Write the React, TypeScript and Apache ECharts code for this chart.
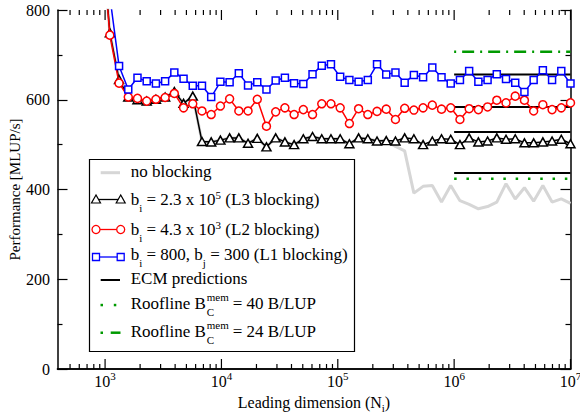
import React, { useEffect, useRef } from "react";
import * as echarts from "echarts";

// Leading dimension N_i (sampled in steps of ~1.2x)
const leadingDim = [916, 1099, 1319, 1582, 1899, 2279, 2734, 3281, 3937, 4725, 5670, 6804, 8165, 9797, 11757, 14108, 16930, 20316, 24379, 29255, 35106, 42127, 50553, 60663, 72796, 87355, 104826, 125791, 150949, 181139, 217367, 260841, 313009, 375610, 450733, 540879, 649055, 778866, 934639, 1121567, 1345880, 1615056, 1938067, 2325680, 2790816, 3348980, 4018776, 4822531, 5787037, 6944444, 8333333, 10000000];

const noBlocking = [1000, 749, 645, 606, 600, 597, 601, 606, 618, 592, 608, 507, 506, 510, 515, 515, 503, 514, 495, 515, 506, 500, 513, 518, 513, 513, 513, 502, 515, 513, 508, 509, 496, 486, 392, 407, 409, 372, 409, 375, 367, 357, 362, 372, 413, 379, 404, 374, 409, 372, 379, 369];
const l3Blocking = [1000, 749, 645, 606, 600, 597, 601, 606, 618, 592, 608, 507, 506, 510, 515, 515, 503, 514, 495, 515, 506, 500, 513, 518, 513, 513, 513, 502, 515, 513, 508, 509, 508, 515, 513, 500, 508, 513, 512, 500, 515, 506, 508, 515, 512, 513, 504, 504, 506, 508, 512, 502];
const l2Blocking = [990, 744, 637, 606, 603, 597, 601, 605, 614, 582, 591, 575, 567, 586, 602, 575, 575, 601, 541, 573, 582, 567, 578, 567, 591, 591, 582, 547, 580, 567, 574, 579, 556, 581, 577, 582, 588, 579, 582, 556, 580, 578, 584, 599, 593, 608, 599, 575, 589, 578, 582, 593];
const l1Blocking = [1100, 830, 675, 623, 649, 641, 636, 641, 661, 647, 631, 631, 606, 640, 639, 659, 632, 639, 623, 643, 649, 637, 635, 657, 676, 679, 651, 644, 640, 644, 679, 656, 661, 638, 655, 650, 672, 650, 636, 644, 664, 640, 644, 657, 646, 638, 617, 644, 666, 644, 664, 636];

const ecmPredictions = [656, 584, 528, 437];
const roofline40 = 424;
const roofline24 = 707;
const modelRange = [1e6, 1e7];

const xMin = 390;
const xMax = 1e7;
const majorDecades = [1e3, 1e4, 1e5, 1e6, 1e7];
const minorMantissas = [2, 3, 4, 5, 6, 7, 8, 9];
const extraMinor = [500, 600, 700, 800, 900];

const FONT = '"Liberation Serif", "Times New Roman", serif';

export default function App() {
  const ref = useRef<HTMLDivElement>(null);
  useEffect(() => {
    document.body.style.margin = "0";
    const chart = echarts.init(ref.current!, null, { renderer: "svg" });

    const ctx = document.createElement("canvas").getContext("2d")!;
    ctx.font = '17px "Liberation Serif"';
    const wRoof = ctx.measureText("Roofline B").width || 75;

    const pts = (vals: number[]) => leadingDim.map((n, i) => [n, vals[i]]);

    const tickData: number[][] = [];
    majorDecades.forEach((d) => tickData.push([d, 1]));
    extraMinor.forEach((v) => tickData.push([v, 0]));
    majorDecades.slice(0, 4).forEach((d) => minorMantissas.forEach((m) => tickData.push([d * m, 0])));

    const dataSeries = (name: string, vals: number[], color: string, symbol: string, size: any, z: number) => ({
      type: "line",
      name,
      data: pts(vals),
      symbol,
      symbolSize: size,
      showAllSymbol: true,
      lineStyle: { color, width: 1.5 },
      itemStyle: { color: "#fff", borderColor: color, borderWidth: 1.5 },
      z,
      silent: true,
    });

    const hLine = (v: number, color: string, width: number, type: any, z: number) => ({
      type: "line",
      data: modelRange.map((x) => [x, v]),
      symbol: "none",
      lineStyle: { color, width, type },
      z,
      silent: true,
    });

    const textBase = { fontFamily: FONT, fontSize: 17, fill: "#000", align: "left", verticalAlign: "middle", lineHeight: 27 };
    const legendRich = {
      sub: { fontFamily: FONT, fontSize: 11, verticalAlign: "bottom" },
      sup: { fontFamily: FONT, fontSize: 11, verticalAlign: "top", padding: [3.5, 0, 0, 0] },
    };
    const lx0 = 96, lx1 = 120.7, tx = 130.7;
    const tri = (cx: number, cy: number) => ({
      type: "polygon",
      shape: { points: [[cx, cy - 4.5], [cx - 4.5, cy + 3.5], [cx + 4.5, cy + 3.5]] },
      style: { fill: "#fff", stroke: "#000", lineWidth: 1.2 },
    });
    const circ = (cx: number, cy: number) => ({
      type: "circle",
      shape: { cx, cy, r: 4 },
      style: { fill: "#fff", stroke: "#f00", lineWidth: 1.3 },
    });
    const sq = (cx: number, cy: number) => ({
      type: "rect",
      shape: { x: cx - 3.5, y: cy - 3.5, width: 7, height: 7 },
      style: { fill: "#fff", stroke: "#00f", lineWidth: 1.3 },
    });
    const seg = (x1: number, x2: number, y: number, stroke: string, w: number, dash?: any) => ({
      type: "line",
      shape: { x1, y1: y, x2, y2: y },
      style: { stroke, lineWidth: w, lineDash: dash },
    });
    const txt = (x: number, y: number, text: string, extra: any = {}) => ({
      type: "text",
      x,
      y,
      style: { ...textBase, text, rich: legendRich, ...extra },
    });

    const sx = tx + wRoof + 1;
    const rooflineRow = (y: number, val: string) => [
      txt(tx, y, "Roofline B"),
      txt(sx, y + 8.5, "C", { fontSize: 11, lineHeight: 11 }),
      txt(sx, y - 7, "mem", { fontSize: 11, lineHeight: 11 }),
      txt(sx + 26, y, "= " + val + " B/LUP"),
    ];

    const legend = {
      type: "group",
      z: 100,
      children: [
        { type: "rect", shape: { x: 89.5, y: 159.5, width: 265, height: 192 }, style: { fill: "#fff", stroke: "#000", lineWidth: 1.2 } },
        seg(100.7, 120, 172.7, "#d6d6d6", 3),
        txt(tx, 171.5, "no blocking"),
        seg(lx0, lx1, 199.5, "#000", 1.3),
        tri(lx0, 199.5),
        tri(lx1, 199.5),
        txt(tx, 199.5, "b{sub|i} = 2.3 x 10{sup|5} (L3 blocking)"),
        seg(lx0, lx1, 229.5, "#f00", 1.3),
        circ(lx0, 229.5),
        circ(lx1, 229.5),
        txt(tx, 229.5, "b{sub|i} = 4.3 x 10{sup|3} (L2 blocking)"),
        seg(lx0, lx1, 257, "#00f", 1.3),
        sq(lx0, 257),
        sq(lx1, 257),
        txt(tx, 254.5, "b{sub|i} = 800, b{sub|j} = 300 (L1 blocking)"),
        seg(100.7, 120, 280, "#000", 2),
        txt(tx, 278.5, "ECM predictions"),
        { type: "rect", shape: { x: 100.5, y: 303.8, width: 2.5, height: 2.5 }, style: { fill: "#009a00" } },
        { type: "rect", shape: { x: 113.8, y: 303.8, width: 2.5, height: 2.5 }, style: { fill: "#009a00" } },
        ...rooflineRow(303.5, "40"),
        { type: "rect", shape: { x: 100.5, y: 331.5, width: 2.5, height: 2.5 }, style: { fill: "#009a00" } },
        seg(110.7, 120.5, 332.7, "#009a00", 2.5),
        ...rooflineRow(331.5, "24"),
      ],
    };

    const yAxisBase = {
      type: "value",
      min: 0,
      max: 800,
      interval: 200,
      axisLine: { show: true, lineStyle: { color: "#000", width: 1.5 } },
      axisTick: { show: true, inside: true, length: 10, lineStyle: { color: "#000", width: 1.2 } },
      minorTick: { show: true, splitNumber: 2, length: 5, lineStyle: { color: "#000", width: 1.2 } },
      splitLine: { show: false },
    };
    const xAxisBase = {
      type: "log",
      logBase: 10,
      min: xMin,
      max: xMax,
      axisLine: { show: true, lineStyle: { color: "#000", width: 1.5 } },
      axisTick: { show: false },
      splitLine: { show: false },
    };

    chart.setOption({
      animation: false,
      grid: { left: 57.5, right: 9.5, top: 10, bottom: 51, containLabel: false, outerBoundsMode: "none" },
      xAxis: [
        {
          ...xAxisBase,
          position: "bottom",
          axisLabel: {
            interval: 0,
            margin: 1,
            fontFamily: FONT,
            fontSize: 16,
            color: "#000",
            lineHeight: 23,
            formatter: (v: number) => {
              const l = Math.log10(v);
              const e = Math.round(l);
              return Math.abs(l - e) < 1e-6 && e >= 3 ? "10{sup|" + e + "}" : "";
            },
            rich: { sup: { fontFamily: FONT, fontSize: 11, color: "#000", verticalAlign: "top" } },
          },
          name: "Leading dimension (N{sub|i})",
          nameLocation: "middle",
          nameGap: 21.5,
          nameMoveOverlap: false,
          nameTextStyle: {
            fontFamily: FONT,
            fontSize: 16,
            color: "#000",
            lineHeight: 23,
            rich: { sub: { fontFamily: FONT, fontSize: 11, color: "#000", verticalAlign: "bottom" } },
          },
        },
        { ...xAxisBase, position: "top", axisLabel: { show: false } },
      ],
      yAxis: [
        {
          ...yAxisBase,
          position: "left",
          axisLabel: { margin: 7.5, fontFamily: FONT, fontSize: 16, color: "#000" },
          name: "Performance [MLUP/s]",
          nameLocation: "middle",
          nameGap: 35,
          nameMoveOverlap: false,
          nameRotate: 90,
          nameTextStyle: { fontFamily: FONT, fontSize: 15, color: "#000" },
        },
        { ...yAxisBase, position: "right", axisLabel: { show: false } },
      ],
      series: [
        {
          type: "line",
          data: pts(noBlocking),
          symbol: "none",
          lineStyle: { color: "#d6d6d6", width: 3 },
          z: 1,
          silent: true,
        },
        ...ecmPredictions.map((v) => hLine(v, "#000", 2, "solid", 2)),
        hLine(roofline40, "#009a00", 2.5, [2.5, 9.8], 2),
        hLine(roofline24, "#009a00", 2.5, [2, 6, 12, 6], 2),
        dataSeries("L3", l3Blocking, "#000", "triangle", [9, 8], 3),
        dataSeries("L2", l2Blocking, "#f00", "circle", 8, 4),
        dataSeries("L1", l1Blocking, "#00f", "rect", 7, 5),
        {
          type: "custom",
          xAxisIndex: 0,
          yAxisIndex: 0,
          silent: true,
          clip: false,
          z: 10,
          data: tickData,
          renderItem: (params: any, api: any) => {
            const v = api.value(0);
            const len = api.value(1) === 1 ? 10 : 5;
            const b = api.coord([v, 0]);
            const t = api.coord([v, 800]);
            return {
              type: "group",
              children: [
                { type: "line", shape: { x1: b[0], y1: b[1], x2: b[0], y2: b[1] - len }, style: { stroke: "#000", lineWidth: 1.2 } },
                { type: "line", shape: { x1: t[0], y1: t[1], x2: t[0], y2: t[1] + len }, style: { stroke: "#000", lineWidth: 1.2 } },
              ],
            };
          },
        },
      ],
      graphic: [legend],
    });
    return () => chart.dispose();
  }, []);
  return <div ref={ref} style={{ width: 580, height: 420 }} />;
}
